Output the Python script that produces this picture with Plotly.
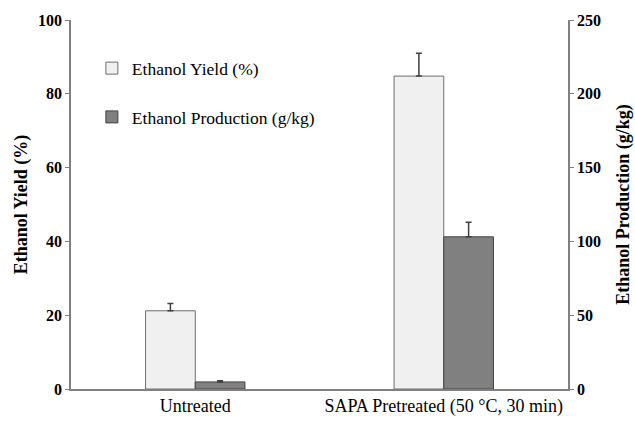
import plotly.graph_objects as go

categories = ["Untreated", "SAPA Pretreated (50 °C, 30 min)"]
yield_pct = [21.2, 84.8]
yield_err = [2.0, 6.2]
production = [4.8, 103.1]
production_err = [0.8, 9.9]

fig = go.Figure()
fig.add_trace(go.Bar(
    x=categories, y=yield_pct, name="Ethanol Yield (%)",
    marker=dict(color="#f0f0f0", line=dict(color="#6e6e6e", width=1)),
    error_y=dict(type="data", array=yield_err, arrayminus=[0, 0], symmetric=False,
                 visible=True, color="#404040", thickness=1.5, width=3),
    width=0.2, offset=-0.2, yaxis="y", legendgroup="a",
))
fig.add_trace(go.Bar(
    x=categories, y=production, name="Ethanol Production (g/kg)",
    marker=dict(color="#808080", line=dict(color="#404040", width=1)),
    error_y=dict(type="data", array=production_err, arrayminus=[0, 0], symmetric=False,
                 visible=True, color="#404040", thickness=1.5, width=3),
    width=0.2, offset=0.0, yaxis="y2", legendgroup="b",
))

serif = "Liberation Serif, Times New Roman, serif"
fig.update_layout(
    width=635, height=421,
    margin=dict(l=71, r=67, t=20, b=32, autoexpand=False),
    paper_bgcolor="white", plot_bgcolor="white",
    font=dict(family=serif, color="black"),
    showlegend=True,
    legend=dict(x=0.042, y=0.918, xanchor="left", yanchor="top",
                font=dict(family=serif, size=17.5, color="black"),
                traceorder="grouped", tracegroupgap=23, itemwidth=30,
                bgcolor="rgba(0,0,0,0)"),
    xaxis=dict(showline=True, linecolor="#808080", linewidth=1.5, ticks="", automargin=False,
               tickfont=dict(family=serif, size=18, color="black"), showgrid=False),
    yaxis=dict(range=[0, 100], dtick=20, showline=True, linecolor="#808080", linewidth=1.5,
               ticks="outside", ticklen=4, tickcolor="#808080", showgrid=False, zeroline=False,
               automargin=False,
               tickfont=dict(family=serif, size=16, color="black", weight="bold"),
               title=dict(text="<b>Ethanol Yield (%)</b>", standoff=6,
                          font=dict(family=serif, size=18, color="black"))),
    yaxis2=dict(range=[0, 250], dtick=50, overlaying="y", side="right", showline=True,
                linecolor="#808080", linewidth=1.5, ticks="outside", ticklen=4, tickcolor="#808080",
                showgrid=False, zeroline=False, automargin=False,
                tickfont=dict(family=serif, size=16, color="black", weight="bold"),
                title=dict(text="<b>Ethanol Production (g/kg)</b>", standoff=16,
                           font=dict(family=serif, size=18, color="black"))),
)

fig.write_html("out.html", config={"displayModeBar": False},
               post_script="document.body.style.margin='0';")
